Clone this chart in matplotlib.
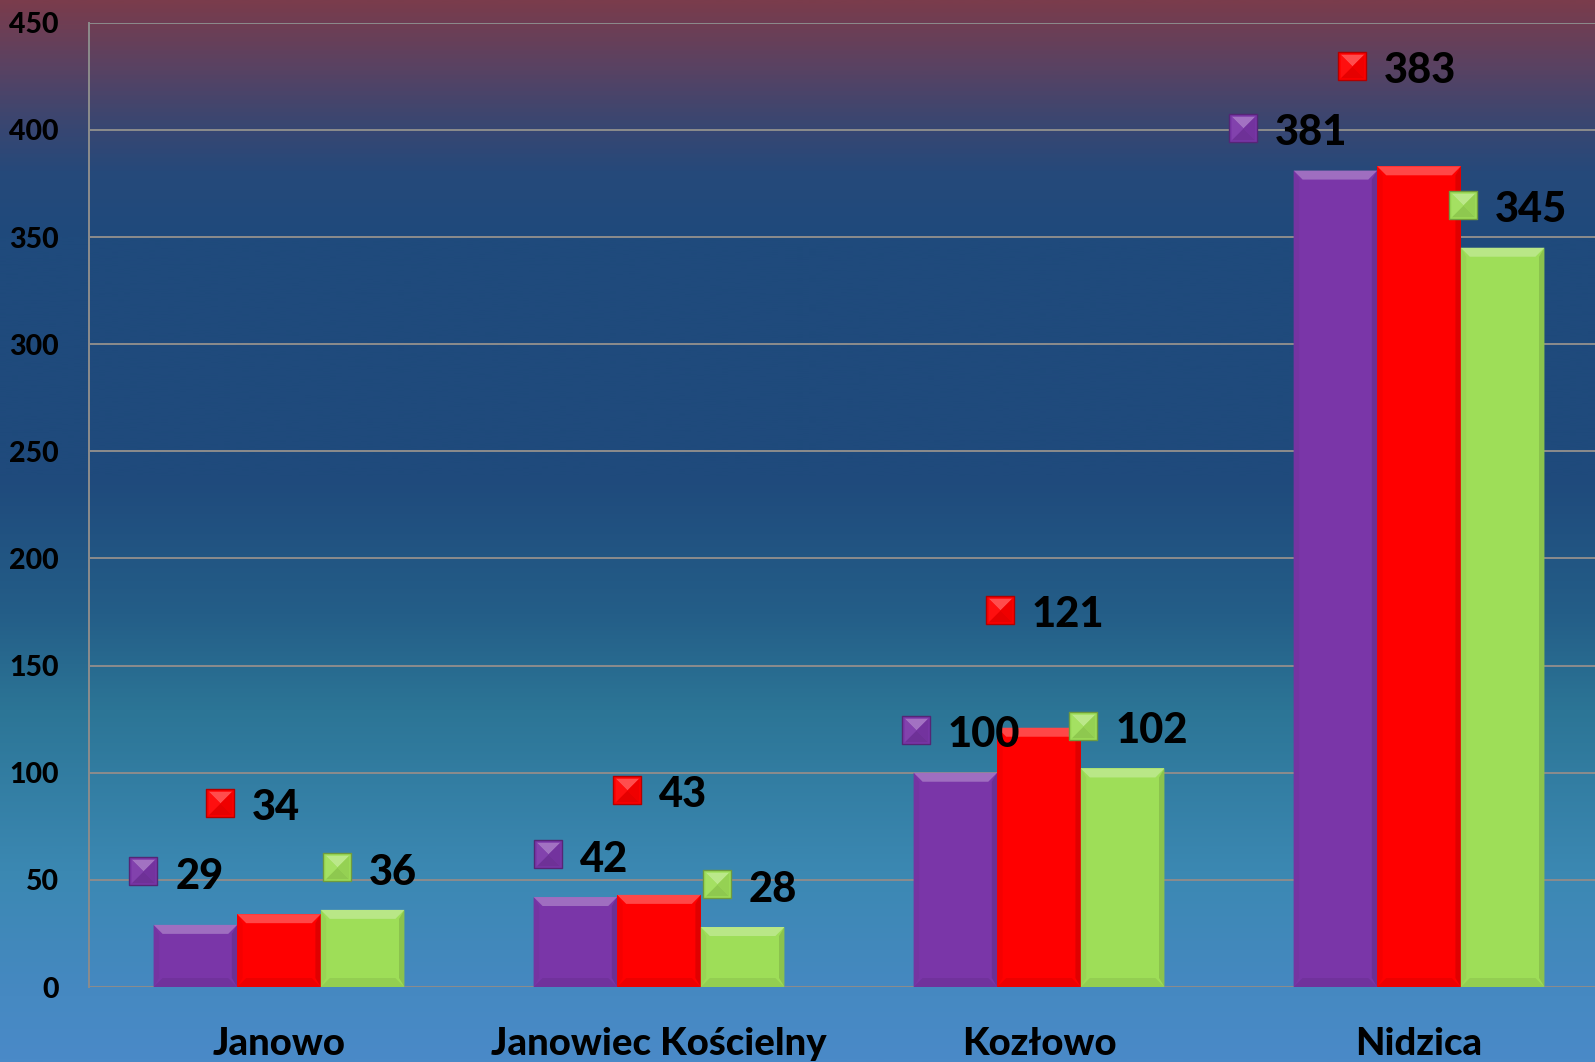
import numpy as np
import matplotlib
matplotlib.use("Agg")
import matplotlib.pyplot as plt
from matplotlib.colors import LinearSegmentedColormap, to_rgb
from matplotlib.patches import Polygon

# data
categories = ["Janowo", "Janowiec Kościelny", "Kozłowo", "Nidzica"]
purple_vals = [29, 42, 100, 381]
red_vals = [34, 43, 121, 383]
green_vals = [36, 28, 102, 345]
y_ticks = [0, 50, 100, 150, 200, 250, 300, 350, 400, 450]

# where the data labels were dragged to (data coords of the key square)
purple_lab = [(-0.357, 54), (0.709, 62), (1.675, 120), (2.537, 401)]
red_lab = [(-0.156, 86), (0.917, 92), (1.897, 176), (2.823, 430)]
green_lab = [(0.152, 56), (1.153, 48), (2.117, 122), (3.115, 365)]

c_purple = "#7a36a8"
c_red = "#ff0000"
c_green = "#9ede58"

plt.rcParams['font.family'] = ['Lato', 'DejaVu Sans']

fig = plt.figure(figsize=(15.95, 10.62), dpi=100)

# gradient background
bg = fig.add_axes([0, 0, 1, 1], zorder=-10)
bg_cmap = LinearSegmentedColormap.from_list("bg", [
    (0.0, "#7a3c4c"), (0.06, "#5a4262"), (0.11, "#3c4670"), (0.16, "#26497a"),
    (0.22, "#1f4a7c"), (0.45, "#1f4a7c"), (0.58, "#245e88"), (0.67, "#2c7596"),
    (0.82, "#3b88b2"), (0.94, "#4689c2"), (1.0, "#4a8ac8")])
grad = np.linspace(0, 1, 512).reshape(-1, 1)
bg.imshow(grad, aspect="auto", cmap=bg_cmap, extent=[0, 1, 0, 1], origin="upper")
bg.axis("off")

ax = fig.add_axes([0.0558, 0.0706, 0.953, 0.908])
ax.set_facecolor("none")
ax.set_xlim(-0.5, 3.5)
ax.set_ylim(0, 450)

x = np.arange(len(categories))
w = 0.22

series = [(purple_vals, c_purple, -w), (red_vals, c_red, 0), (green_vals, c_green, w)]

# pixel size of one data unit, for the bevel
bb = ax.get_window_extent()
px_x = bb.width / 4.0
px_y = bb.height / 450.0


def shade(c, f):
    r, g, b = to_rgb(c)
    if f > 0:
        return (r + (1 - r) * f, g + (1 - g) * f, b + (1 - b) * f)
    return (r * (1 + f), g * (1 + f), b * (1 + f))


for vals, col, off in series:
    bars = ax.bar(x + off, vals, w, color=col, zorder=3, linewidth=0)
    for b in bars:
        x0 = b.get_x()
        x1 = x0 + b.get_width()
        h = b.get_height()
        bx = 9 / px_x
        by = 9 / px_y
        # top bevel lighter, bottom darker, sides a bit darker
        ax.add_patch(Polygon([(x0, h), (x1, h), (x1 - bx, h - by), (x0 + bx, h - by)],
                             closed=True, color=shade(col, 0.28), lw=0, zorder=4))
        ax.add_patch(Polygon([(x0, 0), (x1, 0), (x1 - bx, by), (x0 + bx, by)],
                             closed=True, color=shade(col, -0.07), lw=0, zorder=4))
        ax.add_patch(Polygon([(x0, 0), (x0, h), (x0 + bx * 0.6, h - by), (x0 + bx * 0.6, by)],
                             closed=True, color=shade(col, -0.04), lw=0, zorder=4))
        ax.add_patch(Polygon([(x1, 0), (x1, h), (x1 - bx * 0.6, h - by), (x1 - bx * 0.6, by)],
                             closed=True, color=shade(col, -0.12), lw=0, zorder=4))
        # little shadow at the base
        ax.plot([x0, x1], [-1.2, -1.2], color="#3a4a5a", lw=3, alpha=0.35, zorder=2,
                solid_capstyle="butt")

# pyramid markers for the label keys
tri_top = [(-1, 1), (1, 1), (0, 0), (-1, 1)]
tri_bot = [(-1, -1), (1, -1), (0, 0), (-1, -1)]
tri_left = [(-1, -1), (-1, 1), (0, 0), (-1, -1)]
tri_right = [(1, -1), (1, 1), (0, 0), (1, -1)]

for vals, col, labs in [(purple_vals, c_purple, purple_lab),
                        (red_vals, c_red, red_lab),
                        (green_vals, c_green, green_lab)]:
    for v, (lx, ly) in zip(vals, labs):
        ax.scatter([lx], [ly], s=20 ** 2, marker="s", color=col,
                   edgecolors=shade(col, -0.3), linewidths=1.0, zorder=5)
        for tri, f in [(tri_top, 0.3), (tri_bot, -0.1), (tri_left, 0.06), (tri_right, -0.06)]:
            ax.scatter([lx], [ly], s=17 ** 2, marker=tri, color=shade(col, f),
                       linewidths=0, zorder=6)
        ax.annotate(str(v), (lx, ly), xytext=(23, -4), textcoords="offset points",
                    ha="left", va="center", fontsize=30, fontweight="black",
                    color="black", zorder=7)

# axes styling
ax.set_yticks(y_ticks)
ax.set_xticks(x)
ax.set_xticklabels(categories, fontsize=27.5, fontweight="black")
for lab in ax.get_yticklabels():
    lab.set_fontsize(20.5)
    lab.set_fontweight("black")
ax.tick_params(axis="both", length=0)
ax.tick_params(axis="y", pad=22)
ax.tick_params(axis="x", pad=29)
ax.grid(axis="y", color="#8c8c8c", linewidth=1.4, zorder=0)
ax.set_axisbelow(True)
for s in ["top", "right", "bottom"]:
    ax.spines[s].set_visible(False)
ax.spines["left"].set_color("#8c8c8c")
ax.spines["left"].set_linewidth(1.4)

plt.savefig("out.png", dpi=100)
